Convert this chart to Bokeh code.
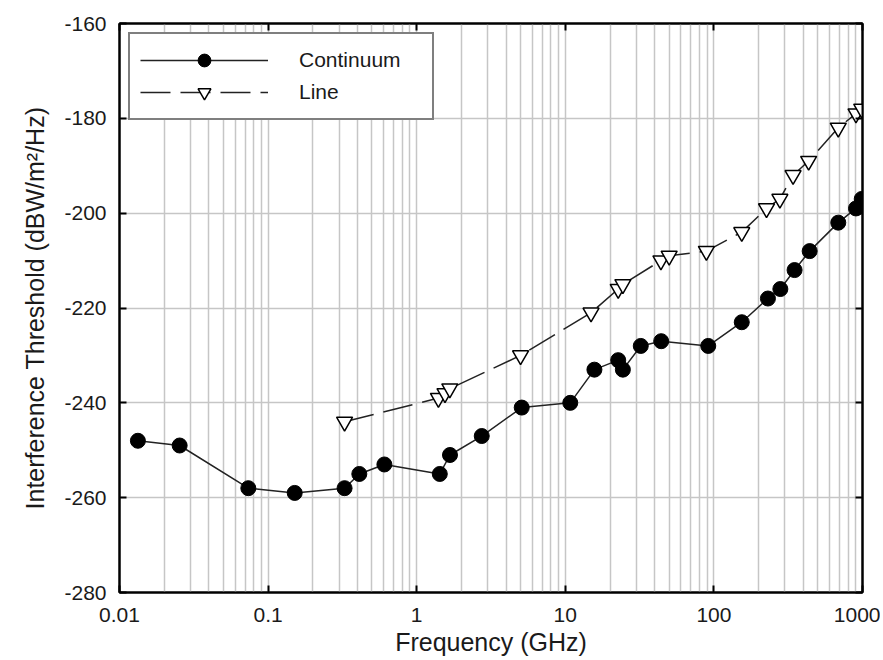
from bokeh.plotting import figure
from bokeh.models import (Range1d, FixedTicker, LogAxis, LinearAxis, Legend,
                          LegendItem, ColumnDataSource)
from bokeh.embed import file_html
from bokeh.resources import INLINE

# ---- data ----
cont_freq = [0.0133, 0.0254, 0.0736, 0.151, 0.327, 0.411, 0.606, 1.43, 1.675,
             2.74, 5.09, 10.8, 15.7, 22.7, 24.4, 32.2, 44.2, 91.6, 154, 231,
             280, 349, 441, 687, 904, 988]
cont_val = [-248, -249, -258, -259, -258, -255, -253, -255, -251, -247, -241,
            -240, -233, -231, -233, -228, -227, -228, -223, -218, -216, -212,
            -208, -202, -199, -197]

line_freq = [0.327, 1.40, 1.55, 1.67, 5.0, 14.9, 22.7, 24.4, 44.0, 50.0, 89.0,
             154, 226, 278, 341, 434, 687, 904, 988]
line_val = [-244, -239, -238, -237, -230, -221, -216, -215, -210, -209, -208,
            -204, -199, -197, -192, -189, -182, -179, -178]

x_ticks = [0.01, 0.1, 1, 10, 100, 1000]
x_labels = ["0.01", "0.1", "1", "10", "100", "1000"]
x_minor = [m * d for d in [0.01, 0.1, 1, 10, 100] for m in range(2, 10)]
y_ticks = [-280, -260, -240, -220, -200, -180, -160]
y_labels = ["-280", "-260", "-240", "-220", "-200", "-180", "-160"]

FONT = "Liberation Sans"
GRID = "#c6c6c6"

p = figure(width=880, height=660, x_axis_type="log",
           x_range=Range1d(0.01, 1000), y_range=Range1d(-280, -160),
           output_backend="svg", toolbar_location=None,
           min_border_left=119, min_border_right=18,
           min_border_top=23, min_border_bottom=68)
p.background_fill_color = "white"
p.border_fill_color = "white"
p.outline_line_color = "black"
p.outline_line_width = 2

xt = FixedTicker(ticks=x_ticks, minor_ticks=x_minor)
yt = FixedTicker(ticks=y_ticks)

xa = p.xaxis[0]
xa.ticker = xt
xa.major_label_overrides = dict(zip(x_ticks, x_labels))
xa.axis_label = "Frequency (GHz)"

ya = p.yaxis[0]
ya.ticker = yt
ya.major_label_overrides = dict(zip(y_ticks, y_labels))
ya.axis_label = "Interference Threshold (dBW/m²/Hz)"

for ax in (xa, ya):
    ax.axis_line_color = "black"
    ax.axis_line_width = 2
    ax.major_tick_in = 7
    ax.major_tick_out = 0
    ax.minor_tick_in = 0
    ax.minor_tick_out = 0
    ax.major_tick_line_color = "black"
    ax.major_tick_line_width = 2
    ax.major_label_text_font = FONT
    ax.major_label_text_font_size = "21px"
    ax.major_label_text_color = "#1a1a1a"
    ax.axis_label_text_font = FONT
    ax.axis_label_text_font_size = "25px"
    ax.axis_label_text_font_style = "normal"
    ax.axis_label_text_color = "#1a1a1a"

xa.major_label_standoff = 15
xa.axis_label_standoff = 3
ya.major_label_standoff = 13
ya.axis_label_standoff = 12

top = LogAxis(ticker=xt, major_tick_in=7, major_tick_out=0, minor_tick_in=0,
              minor_tick_out=0, major_label_text_alpha=0,
              major_label_text_font_size="6px",
              major_label_standoff=0, axis_line_color="black",
              axis_line_width=2, major_tick_line_width=2)
right = LinearAxis(ticker=yt, major_tick_in=7, major_tick_out=0,
                   minor_tick_in=0, minor_tick_out=0,
                   major_label_text_alpha=0,
                   major_label_text_font_size="6px", major_label_standoff=0,
                   axis_line_color="black", axis_line_width=2,
                   major_tick_line_width=2)
p.add_layout(top, "above")
p.add_layout(right, "right")

p.xgrid.grid_line_color = GRID
p.xgrid.grid_line_width = 1.5
p.xgrid.minor_grid_line_color = GRID
p.xgrid.minor_grid_line_width = 1.5
p.ygrid.grid_line_color = GRID
p.ygrid.grid_line_width = 1.5

src_c = ColumnDataSource(dict(f=cont_freq, v=cont_val))
src_l = ColumnDataSource(dict(f=line_freq, v=line_val))

lc = p.line("f", "v", source=src_c, line_color="#222222", line_width=1.5)
ll = p.line("f", "v", source=src_l, line_color="#222222", line_width=1.5,
            line_dash="30 10")
mc = p.scatter("f", "v", source=src_c, marker="circle", size=15,
               fill_color="black", line_color="black", line_width=1)
ml = p.scatter("f", "v", source=src_l, marker="inverted_triangle", size=16,
               fill_color="white", line_color="black", line_width=1.5)

legend = Legend(items=[LegendItem(label="Continuum", renderers=[lc, mc]),
                       LegendItem(label="Line", renderers=[ll, ml])],
                location="top_left", margin=9, padding=10,
                glyph_width=128, glyph_height=32, label_height=32,
                label_width=123, label_standoff=31, spacing=0,
                label_text_font=FONT, label_text_font_size="21px",
                label_text_color="#1a1a1a",
                border_line_color="black", border_line_width=2,
                background_fill_color="white", background_fill_alpha=1.0)
p.add_layout(legend)

open("out.html", "w").write(file_html(p, INLINE))
